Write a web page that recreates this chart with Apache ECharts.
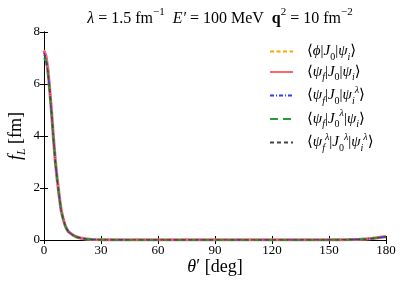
<!DOCTYPE html>
<html>
<head>
<meta charset="utf-8">
<script src="https://cdn.jsdelivr.net/npm/echarts@6/dist/echarts.min.js"></script>
<style>html,body{margin:0;padding:0;background:#fff;}#c{width:407px;height:291px;}</style>
</head>
<body>
<div id="c"></div>
<script>
// angles in degrees
var theta = [0,1,2,3,4,5,6,7,8,9,10,11,12,13,14,15,16,17,18,20,22,25,30,40,60,90,120,140,150,155,160,165,170,173,176,178,180];
// f_L values [fm] per series
var fPhi      = [7.30,7.10,6.60,5.80,4.90,3.90,3.00,2.30,1.70,1.15,0.84,0.58,0.42,0.31,0.25,0.20,0.16,0.12,0.095,0.06,0.04,0.02,0.008,0.003,0.002,0.002,0.002,0.003,0.005,0.008,0.012,0.02,0.04,0.06,0.09,0.11,0.13];
var fFull     = [7.28,7.08,6.58,5.79,4.89,3.90,3.00,2.30,1.70,1.15,0.84,0.58,0.42,0.31,0.25,0.20,0.16,0.12,0.095,0.06,0.04,0.02,0.008,0.003,0.002,0.002,0.002,0.003,0.005,0.008,0.012,0.02,0.04,0.06,0.09,0.11,0.13];
var fInitEv   = [7.20,7.02,6.54,5.76,4.87,3.88,2.99,2.29,1.69,1.14,0.83,0.58,0.42,0.31,0.25,0.20,0.16,0.12,0.095,0.06,0.04,0.02,0.008,0.003,0.002,0.002,0.002,0.003,0.005,0.008,0.012,0.02,0.04,0.06,0.09,0.11,0.13];
var fOpEv     = [7.00,6.88,6.45,5.70,4.83,3.86,2.97,2.28,1.68,1.14,0.83,0.57,0.41,0.30,0.24,0.19,0.15,0.12,0.09,0.06,0.04,0.02,0.008,0.003,0.002,0.002,0.002,0.003,0.005,0.008,0.012,0.02,0.04,0.06,0.09,0.11,0.12];
var fAllEv    = [7.12,6.95,6.50,5.74,4.86,3.88,2.98,2.29,1.69,1.14,0.83,0.58,0.42,0.31,0.25,0.20,0.16,0.12,0.095,0.06,0.04,0.02,0.008,0.003,0.002,0.002,0.002,0.003,0.005,0.008,0.012,0.02,0.04,0.06,0.09,0.11,0.13];
var xTicks = [0,30,60,90,120,150,180];
var yTicks = [0,2,4,6,8];
var seriesNames = ['phi','full','initEv','opEv','allEv'];

function pairs(v){ return theta.map(function(t,i){ return [t, v[i]]; }); }

var serif = '"Liberation Serif","DejaVu Serif",serif';
var rich = {
  n:   {fontFamily: serif, fontSize: 15, lineHeight: 21, verticalAlign: 'middle', color:'#000'},
  i:   {fontFamily: serif, fontSize: 15, fontStyle: 'italic', lineHeight: 21, verticalAlign: 'middle', color:'#000'},
  sub: {fontFamily: serif, fontSize: 10, fontStyle: 'italic', lineHeight: 12, verticalAlign: 'bottom', color:'#000'},
  subn:{fontFamily: serif, fontSize: 10, lineHeight: 12, verticalAlign: 'bottom', color:'#000'},
  sup: {fontFamily: serif, fontSize: 10, fontStyle: 'italic', lineHeight: 12, verticalAlign: 'top', color:'#000'}
};
var legendText = {
  phi:    '{n|⟨}{i|ϕ}{n||}{i|J}{subn|0}{n||}{i|ψ}{sub|i}{n|⟩}',
  full:   '{n|⟨}{i|ψ}{sub|f}{n||}{i|J}{subn|0}{n||}{i|ψ}{sub|i}{n|⟩}',
  initEv: '{n|⟨}{i|ψ}{sub|f}{n||}{i|J}{subn|0}{n||}{i|ψ}{sub|i}{sup|λ}{n|⟩}',
  opEv:   '{n|⟨}{i|ψ}{sub|f}{n||}{i|J}{subn|0}{sup|λ}{n||}{i|ψ}{sub|i}{n|⟩}',
  allEv:  '{n|⟨}{i|ψ}{sub|f}{sup|λ}{n||}{i|J}{subn|0}{sup|λ}{n||}{i|ψ}{sub|i}{sup|λ}{n|⟩}'
};

var styles = {
  phi:    {color:'#ffa500', width:2,   type:[4,2.5]},
  full:   {color:'#ff6666', width:3.2, type:'solid'},
  initEv: {color:'#2a3cff', width:1.6, type:[4,2,1,2]},
  opEv:   {color:'#1f9e3a', width:2,   type:[8,5]},
  allEv:  {color:'#444444', width:1.3, type:[4,3]}
};
var dataMap = {phi:fPhi, full:fFull, initEv:fInitEv, opEv:fOpEv, allEv:fAllEv};

var chart = echarts.init(document.getElementById('c'), null, {renderer:'canvas'});
var axisLine = {show:true, lineStyle:{color:'#000', width:1}};
var option = {
  animation: false,
  backgroundColor: '#fff',
  title: {
    text: '{i|λ} = 1.5 fm{supn|−1}  {i|E′} = 100 MeV  {b|q}{supn|2} = 10 fm{supn|−2}',
    left: 215, top: 2, textAlign: 'center',
    textStyle: {
      fontFamily: serif, fontSize: 16, fontWeight: 'normal', color:'#000',
      rich: {
        n: {fontFamily: serif, fontSize: 16, lineHeight: 24, verticalAlign:'middle'},
        i: {fontFamily: serif, fontSize: 16, fontStyle:'italic', lineHeight: 24, verticalAlign:'middle'},
        b: {fontFamily: serif, fontSize: 16, fontWeight:'bold', lineHeight: 24, verticalAlign:'middle'},
        supn: {fontFamily: serif, fontSize: 11, lineHeight: 13, verticalAlign:'top'}
      }
    }
  },
  grid: {left: 44, right: 21, top: 32, bottom: 51, containLabel: false, outerBoundsMode: 'none'},
  legend: {
    orient: 'vertical',
    left: 269, top: 44, padding: 0,
    itemWidth: 23, itemHeight: 14, itemGap: 2.5,
    data: seriesNames,
    itemStyle: {opacity: 0},
    formatter: function(name){ return legendText[name]; },
    textStyle: {rich: rich, padding:[0,0,0,9]}
  },
  xAxis: [{
    type: 'value', min: 0, max: 180, interval: 30,
    axisLine: axisLine,
    axisTick: {show:true, inside:true, length:4, lineStyle:{color:'#000'}},
    axisLabel: {fontFamily: serif, fontSize: 13, color:'#000', margin: 4,
      formatter: function(v){ return xTicks.indexOf(v) >= 0 ? String(v) : ''; }},
    splitLine: {show:false},
    name: '{i|θ}′ [deg]', nameLocation: 'middle', nameGap: 18, nameMoveOverlap: false,
    nameTextStyle: {fontFamily: serif, fontSize: 18, color:'#000',
      rich: {i:{fontFamily: serif, fontSize: 18, fontStyle:'italic'}}}
  },{
    type: 'value', min: 0, max: 180, interval: 30, position: 'top',
    axisLine: axisLine,
    axisTick: {show:true, inside:true, length:4, lineStyle:{color:'#000'}},
    axisLabel: {show:false}, splitLine: {show:false}
  }],
  yAxis: [{
    type: 'value', min: 0, max: 8, interval: 2,
    axisLine: axisLine,
    axisTick: {show:true, inside:true, length:4, lineStyle:{color:'#000'}},
    axisLabel: {fontFamily: serif, fontSize: 13, color:'#000', margin: 4,
      formatter: function(v){ return yTicks.indexOf(v) >= 0 ? String(v) : ''; }},
    splitLine: {show:false},
    name: '{i|f}{sub|L} [fm]', nameLocation: 'middle', nameGap: 16, nameMoveOverlap: false,
    nameTextStyle: {fontFamily: serif, fontSize: 18, color:'#000',
      rich: {i:{fontFamily: serif, fontSize: 18, fontStyle:'italic', lineHeight: 24, verticalAlign:'middle'},
             sub:{fontFamily: serif, fontSize: 12, fontStyle:'italic', lineHeight: 14, verticalAlign:'bottom'}}}
  },{
    type: 'value', min: 0, max: 8, interval: 2, position: 'right',
    axisLine: axisLine,
    axisTick: {show:true, inside:true, length:4, lineStyle:{color:'#000'}},
    axisLabel: {show:false}, splitLine: {show:false}
  }],
  series: seriesNames.map(function(nm){
    var s = styles[nm];
    return {
      name: nm, type: 'line', showSymbol: false, symbol: 'none',
      data: pairs(dataMap[nm]),
      lineStyle: {color: s.color, width: s.width, type: s.type},
      itemStyle: {color: s.color},
      xAxisIndex: 0, yAxisIndex: 0
    };
  })
};
chart.setOption(option);
</script>
</body>
</html>
